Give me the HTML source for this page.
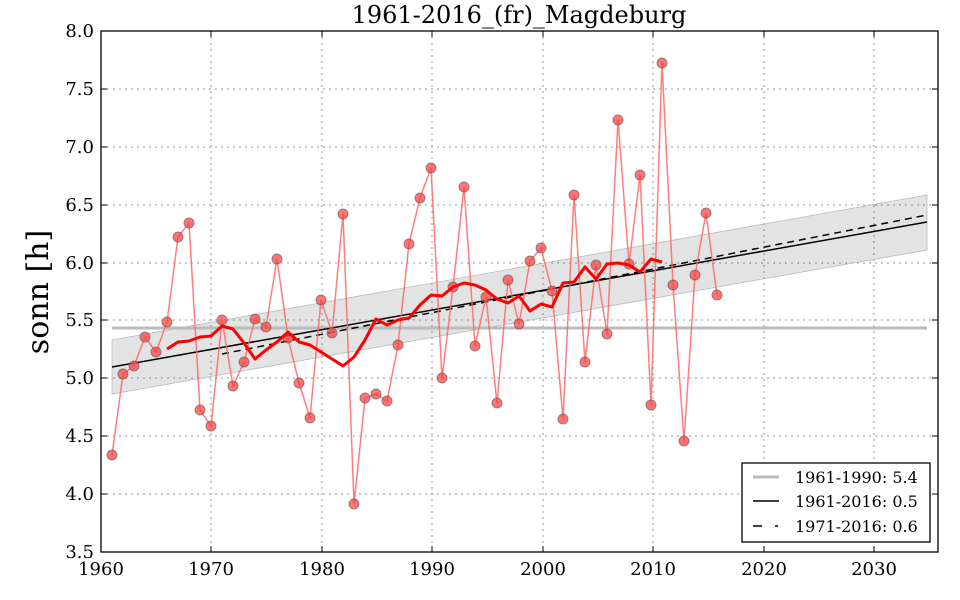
<!DOCTYPE html>
<html><head><meta charset="utf-8"><style>
body{margin:0;background:#fff;}
svg{display:block;font-family:"DejaVu Serif","Liberation Serif",serif;}
</style></head><body>
<svg width="960" height="600" viewBox="0 0 960 600" xmlns="http://www.w3.org/2000/svg">
<rect width="960" height="600" fill="#fff"/>
<g stroke="#999" stroke-width="1" stroke-dasharray="2,4">
<line x1="211" y1="31" x2="211" y2="552"/><line x1="322" y1="31" x2="322" y2="552"/>
<line x1="432" y1="31" x2="432" y2="552"/><line x1="543" y1="31" x2="543" y2="552"/>
<line x1="653" y1="31" x2="653" y2="552"/><line x1="764" y1="31" x2="764" y2="552"/>
<line x1="874" y1="31" x2="874" y2="552"/>
<line x1="101" y1="89" x2="938" y2="89"/><line x1="101" y1="147" x2="938" y2="147"/>
<line x1="101" y1="205" x2="938" y2="205"/><line x1="101" y1="263" x2="938" y2="263"/>
<line x1="101" y1="320" x2="938" y2="320"/><line x1="101" y1="378" x2="938" y2="378"/>
<line x1="101" y1="436" x2="938" y2="436"/><line x1="101" y1="494" x2="938" y2="494"/>
</g>
<polygon points="112,340 927,195 927,250 112,394" fill="#000" fill-opacity="0.11" stroke="#bbb" stroke-width="0.8"/>
<line x1="112" y1="328" x2="927" y2="328" stroke="#bbb" stroke-width="3"/>
<line x1="112" y1="367" x2="927" y2="222" stroke="#000" stroke-width="1.5"/>
<line x1="222" y1="354" x2="927" y2="215" stroke="#000" stroke-width="1.5" stroke-dasharray="7,5"/>
<polyline fill="none" stroke="#f66" stroke-opacity="0.85" stroke-width="1.5" points="112,455 123,374 134,366 145,337 156,352 167,322 178,237 189,223 200,410 211,426 222,320 233,386 244,362 255,319 266,327 277,259 288,338 299,383 310,418 321,300 332,333 343,214 354,504 365,398 376,394 387,401 398,345 409,244 420,198 431,168 442,378 453,287 464,187 475,346 486,297 497,403 508,280 519,324 530,261 541,248 552,291 563,419 574,195 585,362 596,265 607,334 618,120 629,264 640,175 651,405 662,63 673,285 684,441 695,275 706,213 717,295"/>
<g fill="#f44" fill-opacity="0.75" stroke="#555" stroke-opacity="0.6" stroke-width="1">
<circle cx="112" cy="455" r="5"/><circle cx="123" cy="374" r="5"/><circle cx="134" cy="366" r="5"/><circle cx="145" cy="337" r="5"/><circle cx="156" cy="352" r="5"/><circle cx="167" cy="322" r="5"/><circle cx="178" cy="237" r="5"/><circle cx="189" cy="223" r="5"/><circle cx="200" cy="410" r="5"/><circle cx="211" cy="426" r="5"/><circle cx="222" cy="320" r="5"/><circle cx="233" cy="386" r="5"/><circle cx="244" cy="362" r="5"/><circle cx="255" cy="319" r="5"/><circle cx="266" cy="327" r="5"/><circle cx="277" cy="259" r="5"/><circle cx="288" cy="338" r="5"/><circle cx="299" cy="383" r="5"/><circle cx="310" cy="418" r="5"/><circle cx="321" cy="300" r="5"/><circle cx="332" cy="333" r="5"/><circle cx="343" cy="214" r="5"/><circle cx="354" cy="504" r="5"/><circle cx="365" cy="398" r="5"/><circle cx="376" cy="394" r="5"/><circle cx="387" cy="401" r="5"/><circle cx="398" cy="345" r="5"/><circle cx="409" cy="244" r="5"/><circle cx="420" cy="198" r="5"/><circle cx="431" cy="168" r="5"/><circle cx="442" cy="378" r="5"/><circle cx="453" cy="287" r="5"/><circle cx="464" cy="187" r="5"/><circle cx="475" cy="346" r="5"/><circle cx="486" cy="297" r="5"/><circle cx="497" cy="403" r="5"/><circle cx="508" cy="280" r="5"/><circle cx="519" cy="324" r="5"/><circle cx="530" cy="261" r="5"/><circle cx="541" cy="248" r="5"/><circle cx="552" cy="291" r="5"/><circle cx="563" cy="419" r="5"/><circle cx="574" cy="195" r="5"/><circle cx="585" cy="362" r="5"/><circle cx="596" cy="265" r="5"/><circle cx="607" cy="334" r="5"/><circle cx="618" cy="120" r="5"/><circle cx="629" cy="264" r="5"/><circle cx="640" cy="175" r="5"/><circle cx="651" cy="405" r="5"/><circle cx="662" cy="63" r="5"/><circle cx="673" cy="285" r="5"/><circle cx="684" cy="441" r="5"/><circle cx="695" cy="275" r="5"/><circle cx="706" cy="213" r="5"/><circle cx="717" cy="295" r="5"/>
</g>
<polyline fill="none" stroke="#f00" stroke-width="3" stroke-linejoin="round" points="167,349 178,342 189,341 200,337 211,336 222,326 233,329 244,343 255,359 266,350 277,342 288,332 299,342 310,345 321,352 332,359 343,366 354,357 365,340 376,319 387,325 398,320 409,318 420,305 431,295 442,296 453,287 464,283 475,285 486,290 497,299 508,303 519,296 530,311 541,304 552,307 563,283 574,282 585,267 596,279 607,264 618,263 629,265 640,272 651,259 662,262"/>
<rect x="101" y="31" width="837" height="521" fill="none" stroke="#000" stroke-width="1.3"/>
<g stroke="#000" stroke-width="1">
<line x1="211" y1="552" x2="211" y2="546"/><line x1="322" y1="552" x2="322" y2="546"/><line x1="432" y1="552" x2="432" y2="546"/><line x1="543" y1="552" x2="543" y2="546"/><line x1="653" y1="552" x2="653" y2="546"/><line x1="764" y1="552" x2="764" y2="546"/><line x1="874" y1="552" x2="874" y2="546"/>
<line x1="211" y1="31" x2="211" y2="37"/><line x1="322" y1="31" x2="322" y2="37"/><line x1="432" y1="31" x2="432" y2="37"/><line x1="543" y1="31" x2="543" y2="37"/><line x1="653" y1="31" x2="653" y2="37"/><line x1="764" y1="31" x2="764" y2="37"/><line x1="874" y1="31" x2="874" y2="37"/>
<line x1="101" y1="89" x2="107" y2="89"/><line x1="101" y1="147" x2="107" y2="147"/><line x1="101" y1="205" x2="107" y2="205"/><line x1="101" y1="263" x2="107" y2="263"/><line x1="101" y1="320" x2="107" y2="320"/><line x1="101" y1="378" x2="107" y2="378"/><line x1="101" y1="436" x2="107" y2="436"/><line x1="101" y1="494" x2="107" y2="494"/>
<line x1="938" y1="89" x2="932" y2="89"/><line x1="938" y1="147" x2="932" y2="147"/><line x1="938" y1="205" x2="932" y2="205"/><line x1="938" y1="263" x2="932" y2="263"/><line x1="938" y1="320" x2="932" y2="320"/><line x1="938" y1="378" x2="932" y2="378"/><line x1="938" y1="436" x2="932" y2="436"/><line x1="938" y1="494" x2="932" y2="494"/>
</g>
<g font-size="18" text-anchor="middle" fill="#000">
<text x="101" y="575">1960</text><text x="211" y="575">1970</text><text x="322" y="575">1980</text><text x="432" y="575">1990</text><text x="543" y="575">2000</text><text x="653" y="575">2010</text><text x="764" y="575">2020</text><text x="874" y="575">2030</text>
</g>
<g font-size="18" text-anchor="end" fill="#000">
<text x="94" y="37">8.0</text><text x="94" y="95">7.5</text><text x="94" y="153">7.0</text><text x="94" y="211">6.5</text><text x="94" y="269">6.0</text><text x="94" y="326">5.5</text><text x="94" y="384">5.0</text><text x="94" y="442">4.5</text><text x="94" y="500">4.0</text><text x="94" y="558">3.5</text>
</g>
<text x="519" y="23" font-size="24" text-anchor="middle">1961-2016_(fr)_Magdeburg</text>
<text transform="translate(48,292) rotate(-90)" font-size="30" text-anchor="middle">sonn [h]</text>
<rect x="742" y="463" width="188" height="79" fill="#fff" stroke="#000" stroke-width="1.3"/>
<line x1="753" y1="477" x2="779" y2="477" stroke="#bbb" stroke-width="3"/>
<line x1="753" y1="501" x2="779" y2="501" stroke="#000" stroke-width="1.5"/>
<line x1="753" y1="526" x2="762" y2="526" stroke="#000" stroke-width="1.5"/>
<line x1="775" y1="526" x2="778" y2="526" stroke="#000" stroke-width="1.5"/>
<g font-size="16" fill="#000">
<text x="795" y="483">1961-1990: 5.4</text>
<text x="795" y="507">1961-2016: 0.5</text>
<text x="795" y="532">1971-2016: 0.6</text>
</g>
</svg>
</body></html>
